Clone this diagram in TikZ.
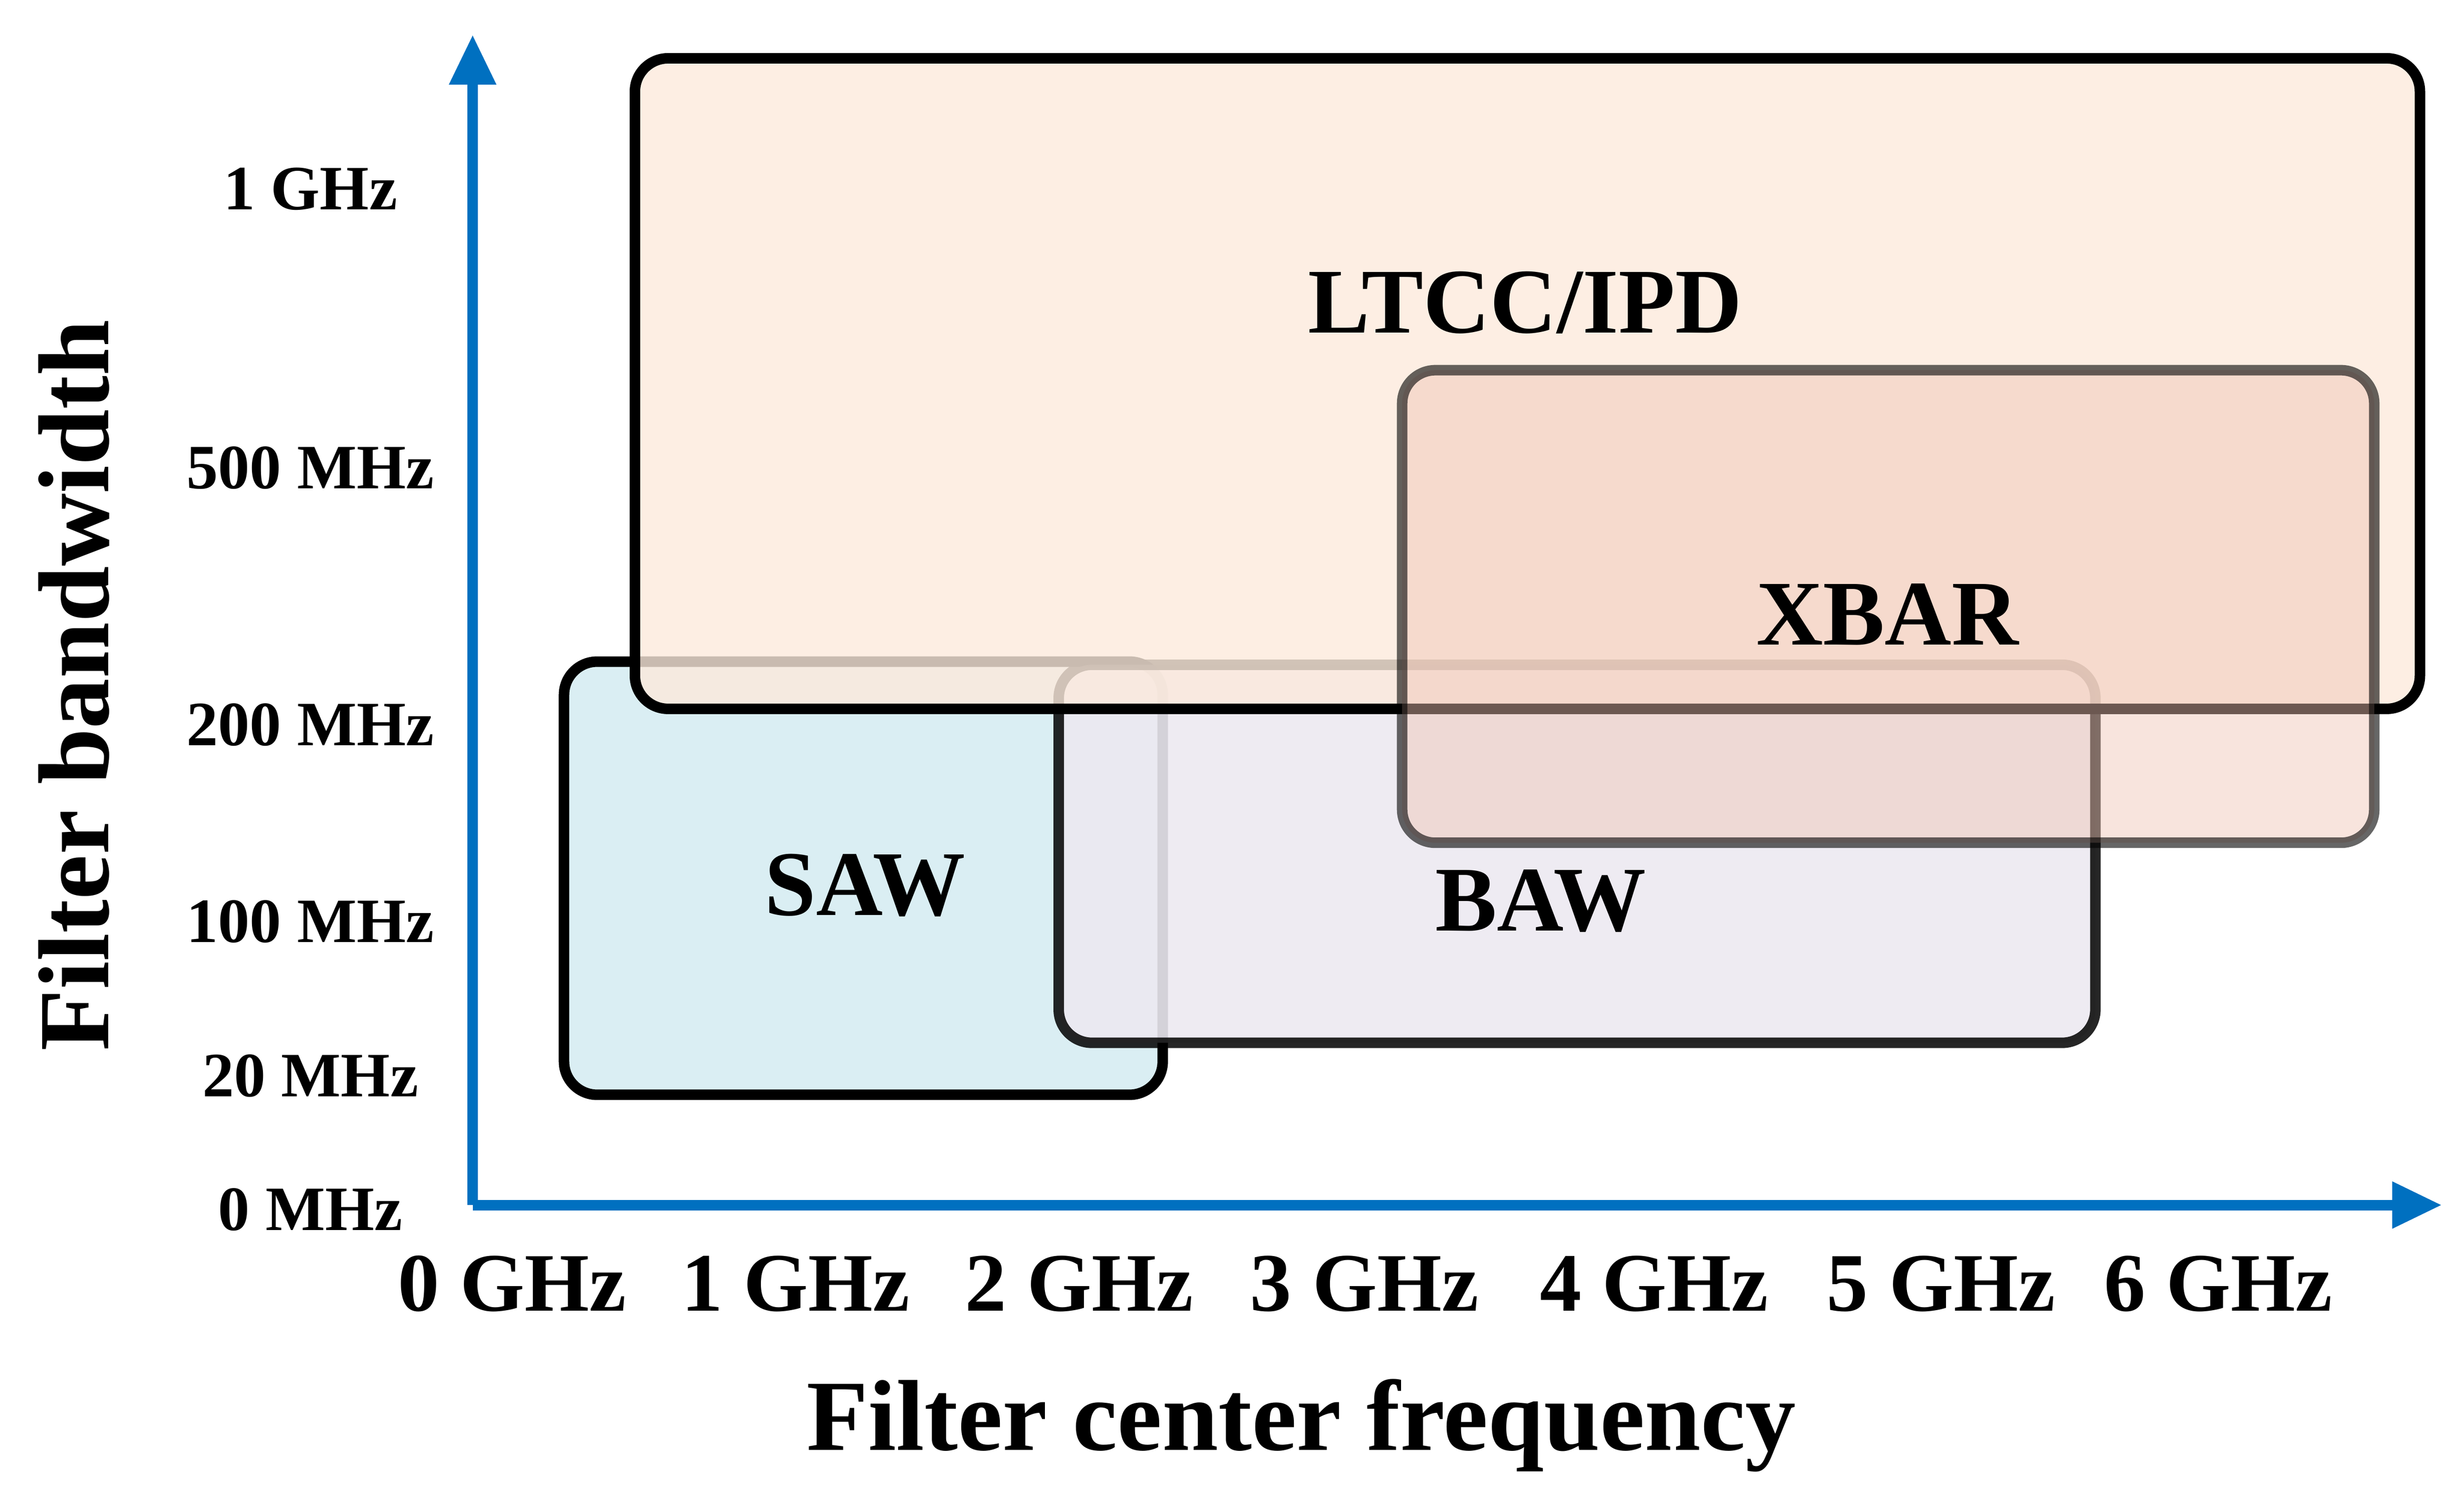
\documentclass[tikz,border=0pt]{standalone}
\usepackage{fontspec}
\setmainfont{Liberation Serif}
\usetikzlibrary{arrows.meta}
\definecolor{axisblue}{RGB}{0,112,192}
\definecolor{ltccfill}{RGB}{252,234,220}
\definecolor{xbarfill}{RGB}{240,196,180}
\definecolor{sawfill}{RGB}{218,238,243}
\definecolor{bawfill}{RGB}{236,233,241}
\begin{document}
\begin{tikzpicture}[x=0.01cm,y=-0.01cm,
    band/.style={draw=black,line width=1.9pt,rounded corners=6pt},
    ytick/.style={font=\fontsize{11.4}{13}\selectfont\bfseries},
    xtick/.style={font=\fontsize{15}{18}\selectfont\bfseries},
    title/.style={font=\fontsize{18.2}{22}\selectfont\bfseries},
    blabel/.style={font=\fontsize{16.7}{20}\selectfont\bfseries}]
    \useasboundingbox (0,0) rectangle (1564,959);
    \coordinate (o) at (300,765);
    \coordinate (ytop) at (300,22);
    \coordinate (xend) at (1550,765);

    \draw[band,fill=sawfill] (358,420) rectangle (738,695);
    \draw[band,fill=bawfill,fill opacity=0.9,draw opacity=0.85] (672,422) rectangle (1330,662);
    \draw[band,fill=ltccfill,fill opacity=0.8] (403,37) rectangle (1536,450);
    \draw[band,fill=xbarfill,fill opacity=0.45,draw opacity=0.6] (890,235) rectangle (1507,535);

    \draw[axisblue,line width=1.9pt,-{Triangle[length=9pt,width=8pt]}] (o) -- (ytop);
    \draw[axisblue,line width=1.9pt,-{Triangle[length=9pt,width=8pt]}] (o) -- (xend);

    \node[ytick] (y1) at (197,120) {1 GHz};
    \node[ytick] (y2) at (197,297) {500 MHz};
    \node[ytick] (y3) at (197,460) {200 MHz};
    \node[ytick] (y4) at (197,585) {100 MHz};
    \node[ytick] (y5) at (197,683) {20 MHz};
    \node[ytick] (y6) at (197,768) {0 MHz};

    \foreach \f/\x in {0/325,1/505,2/685,3/866,4/1050,5/1232,6/1408}
        \node[xtick] (x\f) at (\x,815) {\f{} GHz};

    \node[title] (xlabel) at (826,905) {Filter center frequency};
    \node[title,rotate=90] (ylabel) at (47,435) {Filter bandwidth};

    \node[blabel] (ltcc) at (968,192) {LTCC/IPD};
    \node[blabel] (xbar) at (1198,390) {XBAR};
    \node[blabel] (saw) at (549,562) {SAW};
    \node[blabel] (baw) at (978,572) {BAW};
\end{tikzpicture}
\end{document}
